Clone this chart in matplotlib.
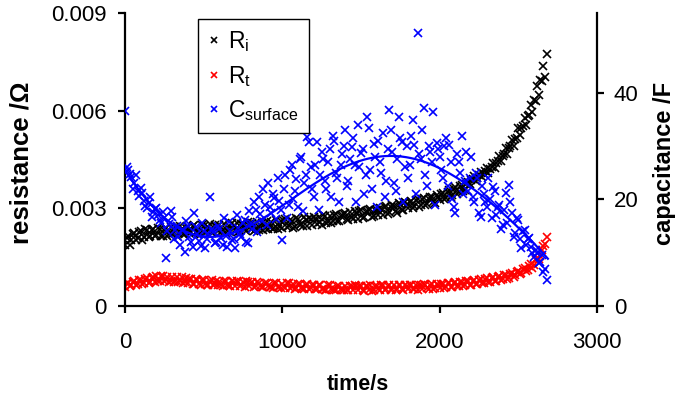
import numpy as np
import matplotlib
matplotlib.use("Agg")
import matplotlib.pyplot as plt

plt.rcParams['font.family'] = ['Liberation Sans', 'DejaVu Sans']
plt.rcParams['mathtext.fontset'] = 'custom'
plt.rcParams['mathtext.rm'] = 'Liberation Sans'
plt.rcParams['mathtext.it'] = 'Liberation Sans'

# readings every 10 s, stored as two interleaved sets (t = 0,20,... and t = 10,30,...)
time_a = np.arange(0, 2700, 20)
time_b = np.arange(10, 2680, 20)

# interfacial resistance R_i (mOhm)
ri_a = [
    1.88, 2.14, 2.02, 2.24, 2.08, 2.30, 2.12, 2.34, 2.16, 2.38,
    2.18, 2.36, 2.14, 2.40, 2.22, 2.20, 2.44, 2.24, 2.38, 2.20,
    2.42, 2.26, 2.48, 2.30, 2.22, 2.46, 2.31, 2.52, 2.27, 2.42,
    2.50, 2.32, 2.24, 2.47, 2.54, 2.33, 2.27, 2.52, 2.36, 2.57,
    2.38, 2.30, 2.58, 2.41, 2.34, 2.62, 2.44, 2.37, 2.65, 2.46,
    2.40, 2.66, 2.47, 2.61, 2.42, 2.68, 2.52, 2.73, 2.47, 2.66,
    2.74, 2.52, 2.58, 2.79, 2.54, 2.76, 2.60, 2.83, 2.62, 2.79,
    2.87, 2.64, 2.72, 2.91, 2.68, 2.94, 2.74, 2.91, 2.98, 2.76,
    2.96, 3.02, 2.80, 3.06, 2.88, 3.11, 2.92, 3.16, 2.96, 3.18,
    3.02, 3.24, 3.06, 3.28, 3.09, 3.32, 3.14, 3.36, 3.19, 3.41,
    3.26, 3.48, 3.32, 3.56, 3.40, 3.64, 3.49, 3.72, 3.56, 3.81,
    3.87, 3.98, 3.94, 4.12, 4.06, 4.24, 4.20, 4.40, 4.39, 4.62,
    4.62, 4.86, 4.86, 5.11, 5.12, 5.46, 5.46, 5.78, 5.84, 6.16,
    6.34, 6.76, 6.94, 7.36, 7.75,
]
ri_b = [
    2.10, 1.86, 2.20, 2.02, 2.28, 2.04, 2.36, 2.12, 2.32, 2.15,
    2.40, 2.14, 2.34, 2.16, 2.42, 2.24, 2.15, 2.46, 2.21, 2.41,
    2.23, 2.45, 2.27, 2.20, 2.50, 2.25, 2.43, 2.24, 2.49, 2.29,
    2.26, 2.51, 2.33, 2.28, 2.47, 2.54, 2.30, 2.49, 2.31, 2.51,
    2.55, 2.38, 2.33, 2.56, 2.40, 2.36, 2.59, 2.41, 2.38, 2.62,
    2.60, 2.44, 2.64, 2.40, 2.69, 2.49, 2.45, 2.65, 2.70, 2.50,
    2.67, 2.72, 2.50, 2.75, 2.58, 2.56, 2.80, 2.60, 2.77, 2.84,
    2.68, 2.88, 2.66, 2.85, 2.92, 2.71, 2.89, 2.96, 2.74, 2.94,
    2.78, 2.98, 3.05, 2.83, 3.03, 3.08, 2.87, 3.12, 2.94, 3.14,
    3.20, 3.00, 3.26, 3.04, 3.30, 3.11, 3.28, 3.34, 3.15, 3.36,
    3.44, 3.30, 3.51, 3.34, 3.60, 3.44, 3.68, 3.52, 3.76, 3.74,
    3.90, 3.84, 4.01, 3.97, 4.14, 4.09, 4.28, 4.24, 4.46, 4.44,
    4.68, 4.68, 4.92, 4.92, 5.16, 5.24, 5.52, 5.56, 5.88, 5.96,
    6.31, 6.49, 6.91, 7.04,
]

# transfer resistance R_t (mOhm)
rt_a = [
    0.58, 0.72, 0.63, 0.77, 0.67, 0.81, 0.70, 0.85, 0.74, 0.89,
    0.91, 0.76, 0.93, 0.79, 0.75, 0.90, 0.77, 0.73, 0.88, 0.74,
    0.70, 0.84, 0.68, 0.81, 0.66, 0.79, 0.65, 0.78, 0.64, 0.77,
    0.75, 0.62, 0.78, 0.64, 0.76, 0.61, 0.75, 0.63, 0.59, 0.74,
    0.71, 0.58, 0.73, 0.60, 0.57, 0.71, 0.59, 0.56, 0.70, 0.58,
    0.69, 0.55, 0.71, 0.57, 0.53, 0.68, 0.56, 0.52, 0.67, 0.54,
    0.65, 0.51, 0.64, 0.53, 0.49, 0.63, 0.51, 0.48, 0.62, 0.50,
    0.61, 0.48, 0.60, 0.63, 0.49, 0.61, 0.47, 0.60, 0.63, 0.50,
    0.62, 0.49, 0.63, 0.51, 0.65, 0.52, 0.49, 0.63, 0.51, 0.64,
    0.52, 0.65, 0.53, 0.50, 0.64, 0.67, 0.54, 0.66, 0.53, 0.68,
    0.56, 0.69, 0.57, 0.71, 0.59, 0.73, 0.61, 0.75, 0.63, 0.77,
    0.66, 0.80, 0.68, 0.83, 0.72, 0.86, 0.75, 0.89, 0.78, 0.92,
    0.82, 0.96, 0.86, 1.01, 0.94, 1.08, 1.01, 1.17, 1.11, 1.29,
    1.27, 1.47, 1.53, 1.85, 2.12,
]
rt_b = [
    0.70, 0.60, 0.75, 0.64, 0.79, 0.68, 0.83, 0.71, 0.87, 0.75,
    0.78, 0.92, 0.76, 0.90, 0.78, 0.73, 0.89, 0.76, 0.72, 0.86,
    0.82, 0.69, 0.83, 0.67, 0.80, 0.68, 0.66, 0.80, 0.67, 0.63,
    0.64, 0.77, 0.65, 0.62, 0.75, 0.77, 0.62, 0.74, 0.76, 0.61,
    0.73, 0.60, 0.71, 0.58, 0.72, 0.60, 0.57, 0.71, 0.59, 0.56,
    0.57, 0.70, 0.54, 0.68, 0.56, 0.67, 0.54, 0.66, 0.53, 0.65,
    0.53, 0.66, 0.52, 0.50, 0.63, 0.52, 0.49, 0.61, 0.51, 0.48,
    0.50, 0.62, 0.49, 0.60, 0.62, 0.48, 0.61, 0.50, 0.47, 0.61,
    0.51, 0.63, 0.50, 0.62, 0.49, 0.63, 0.52, 0.65, 0.50, 0.62,
    0.64, 0.51, 0.63, 0.66, 0.53, 0.65, 0.52, 0.67, 0.55, 0.63,
    0.67, 0.56, 0.70, 0.59, 0.71, 0.60, 0.74, 0.62, 0.76, 0.65,
    0.78, 0.67, 0.81, 0.70, 0.84, 0.73, 0.87, 0.76, 0.90, 0.80,
    0.94, 0.84, 0.98, 0.90, 1.05, 0.97, 1.13, 1.06, 1.24, 1.17,
    1.41, 1.43, 1.73, 1.90,
]

# surface capacitance (F)
c_a = [
    36.6, 25.5, 24.2, 23.0, 21.5, 22.2, 19.8, 18.4, 20.5, 17.6,
    18.4, 16.2, 17.6, 9.0, 15.4, 16.8, 14.2, 13.0, 14.3, 10.1,
    15.0, 12.0, 17.4, 13.5, 11.2, 14.0, 12.5, 20.4, 13.8, 12.0,
    14.5, 11.5, 13.2, 15.8, 12.3, 10.8, 14.6, 13.0, 16.2, 11.8,
    15.5, 19.5, 13.8, 17.2, 22.0, 15.2, 18.5, 21.0, 16.4, 19.8,
    12.4, 24.5, 19.0, 26.5, 21.5, 18.6, 28.0, 23.0, 31.7, 26.0,
    20.5, 30.8, 24.5, 27.5, 22.0, 29.5, 32.0, 25.0, 19.5, 28.5,
    33.0, 23.5, 29.8, 26.5, 34.0, 28.7, 21.0, 35.5, 25.5, 30.5,
    18.5, 27.0, 32.5, 23.5, 36.8, 29.0, 21.5, 35.5, 30.8, 26.0,
    24.0, 32.0, 30.2, 51.2, 27.5, 37.1, 22.5, 29.0, 36.4, 30.6,
    28.0, 24.0, 31.5, 30.2, 20.0, 17.4, 27.0, 32.0, 23.5, 21.5,
    28.0, 19.5, 24.0, 16.7, 21.0, 18.5, 20.0, 22.3, 17.0, 19.0,
    15.2, 21.2, 22.7, 17.5, 13.7, 16.1, 10.9, 14.3, 12.5, 11.0,
    9.2, 10.0, 8.3, 6.4, 4.9,
]
c_b = [
    26.0, 24.8, 22.0, 24.5, 20.6, 21.2, 18.8, 19.4, 16.7, 18.2,
    17.0, 15.5, 16.5, 14.0, 17.8, 12.5, 15.0, 11.5, 14.3, 16.0,
    13.0, 11.0, 14.8, 12.2, 15.5, 10.8, 13.6, 14.5, 11.8, 15.0,
    12.8, 16.5, 11.0, 14.0, 12.5, 17.0, 13.5, 15.5, 12.0, 17.8,
    14.5, 18.0, 20.5, 16.0, 19.0, 23.0, 17.5, 20.2, 24.0, 18.0,
    22.0, 16.5, 25.5, 20.0, 23.8, 27.5, 17.8, 24.5, 30.8, 22.0,
    26.5, 18.0, 29.0, 23.5, 27.0, 20.5, 31.0, 24.0, 26.5, 30.0,
    22.5, 27.5, 31.5, 19.5, 26.0, 29.5, 24.5, 33.5, 22.0, 28.0,
    31.0, 25.0, 20.5, 29.5, 33.0, 23.0, 27.5, 31.5, 19.5, 30.0,
    26.5, 35.0, 21.0, 28.5, 33.0, 24.5, 30.0, 27.0, 19.0, 29.5,
    25.5, 30.0, 22.5, 27.0, 18.5, 28.5, 25.0, 21.0, 29.0, 24.0,
    20.5, 25.0, 17.5, 22.5, 19.5, 24.0, 16.5, 21.5, 18.5, 14.5,
    18.0, 15.5, 19.5, 13.0, 16.5, 12.5, 14.0, 11.5, 12.8, 10.0,
    10.5, 8.0, 9.5, 7.0,
]

# trendline of C_surface (F)
trend_time = [0, 100, 200, 300, 400, 500, 600, 700, 800, 900, 1000, 1100, 1200, 1300,
              1400, 1500, 1600, 1700, 1800, 1900, 2000, 2100, 2200, 2300, 2400, 2500,
              2600, 2688]
trend_c = [25.5, 21.1, 18.0, 15.6, 14.0, 13.1, 12.9, 13.5, 15.0, 17.0, 19.0, 21.0, 23.0, 24.8,
           26.2, 27.2, 27.8, 28.0, 27.8, 27.1, 25.9, 24.4, 22.4, 20.0, 17.4, 14.6,
           11.6, 9.0]

t_all = np.concatenate([time_a, time_b])
ri = np.concatenate([ri_a, ri_b]) / 1000
rt = np.concatenate([rt_a, rt_b]) / 1000
cs = np.concatenate([c_a, c_b])

fig = plt.figure(figsize=(6.94, 4.01), dpi=100)
ax = fig.add_axes([0.1801, 0.2369, 0.6801, 0.7307])
ax2 = ax.twinx()

h1, = ax.plot(t_all, ri, 'x', color='black', ms=6.2, mew=1.2, label='R$_\\mathrm{i}$')
h2, = ax.plot(t_all, rt, 'x', color='red', ms=5.4, mew=1.2, label='R$_\\mathrm{t}$')
h3, = ax2.plot(t_all, cs, 'x', color='blue', ms=6.2, mew=1.2, label='C$_\\mathrm{surface}$')

# smooth the read trend with a polynomial, like a spreadsheet trendline
coef = np.polyfit(trend_time, trend_c, 6)
tt = np.linspace(0, trend_time[-1], 300)
ax2.plot(tt, np.polyval(coef, tt), color='blue', lw=1.6)

ax.set_xlim(0, 3000)
ax.set_ylim(0, 0.009)
ax2.set_ylim(0, 55)
ax.set_xticks([0, 1000, 2000, 3000])
ax.set_yticks([0, 0.003, 0.006, 0.009])
ax2.set_yticks([0, 20, 40])
ax.yaxis.set_major_formatter(plt.FuncFormatter(lambda v, _: '0' if v == 0 else f'{v:.3f}'))

for a in (ax, ax2):
    for s in a.spines.values():
        s.set_linewidth(1.6)
    a.spines['top'].set_visible(False)
ax.spines['right'].set_visible(False)
ax2.spines['left'].set_visible(False)
ax2.spines['bottom'].set_visible(False)

ax.tick_params(axis='x', direction='out', length=5, width=1.6, labelsize=16, pad=14)
ax.tick_params(axis='y', direction='out', length=5, width=1.6, labelsize=16, pad=8)
ax2.tick_params(axis='y', direction='out', length=5, width=1.6, labelsize=16, pad=7)

fig.text(22 / 694, 1 - 163 / 401, 'resistance /Ω', rotation=90, ha='center', va='center',
         fontsize=18.5, fontweight='bold')
fig.text(665 / 694, 1 - 163 / 401, 'capacitance /F', rotation=90, ha='center', va='center',
         fontsize=17, fontweight='bold')
fig.text(358 / 694, 1 - 385 / 401, 'time/s', ha='center', va='center',
         fontsize=15.5, fontweight='bold')

leg = ax2.legend(handles=[h1, h2, h3], loc='upper left', bbox_to_anchor=(0.155, 0.98),
                 borderaxespad=0, fancybox=False, framealpha=1, edgecolor='black',
                 fontsize=16.5, markerscale=0.7, handlelength=0.5, handletextpad=0.35,
                 labelspacing=0.42, borderpad=0.45)
leg.get_frame().set_linewidth(1.0)

fig.savefig('out.png', dpi=100)
